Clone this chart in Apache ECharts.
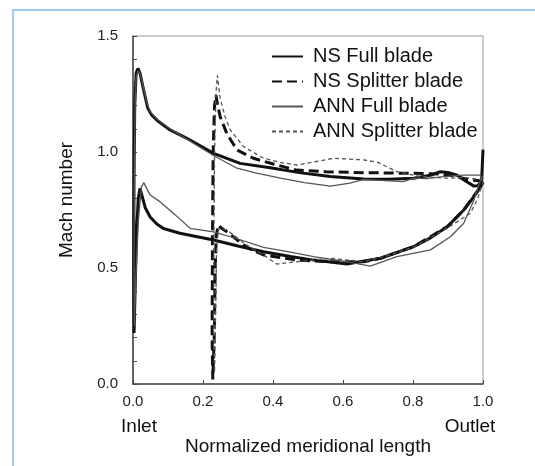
<!DOCTYPE html>
<html>
<head>
<meta charset="utf-8">
<script src="https://cdn.jsdelivr.net/npm/echarts@6/dist/echarts.min.js"></script>
<style>
  html, body { margin: 0; padding: 0; background: #fff; }
  #chart { width: 535px; height: 466px; }
</style>
</head>
<body>
<div id="chart"></div>
<script>
// blade surface curves, [x, Mach] ordered around the blade (upper side back to LE, then lower side to TE)
var nsFull = [
  [1.0, 1.01], [0.996, 0.875], [0.985, 0.855], [0.974, 0.853], [0.95, 0.875], [0.926, 0.90], [0.9, 0.912],
  [0.878, 0.915], [0.85, 0.9], [0.802, 0.887], [0.73, 0.883], [0.659, 0.884], [0.564, 0.894], [0.48, 0.91],
  [0.392, 0.932], [0.306, 0.951], [0.23, 0.994], [0.154, 1.059], [0.106, 1.095], [0.07, 1.135], [0.053, 1.16],
  [0.042, 1.19], [0.03, 1.27], [0.02, 1.34], [0.014, 1.36], [0.009, 1.34], [0.005, 1.2], [0.003, 0.9],
  [0.002, 0.5], [0.003, 0.22], [0.006, 0.4], [0.01, 0.65], [0.015, 0.8], [0.02, 0.843], [0.026, 0.81],
  [0.035, 0.76], [0.049, 0.72], [0.068, 0.69], [0.087, 0.67], [0.134, 0.65], [0.23, 0.621], [0.3, 0.595],
  [0.373, 0.57], [0.45, 0.55], [0.516, 0.534], [0.611, 0.517], [0.707, 0.542], [0.802, 0.592], [0.85, 0.63],
  [0.898, 0.678], [0.945, 0.75], [0.975, 0.81], [0.993, 0.85], [1.0, 0.87]
];
var nsSplit = [
  [1.0, 0.875], [0.964, 0.879], [0.92, 0.895], [0.88, 0.905], [0.802, 0.908], [0.659, 0.911], [0.55, 0.915],
  [0.468, 0.922], [0.401, 0.948], [0.344, 0.973], [0.297, 1.009], [0.268, 1.08], [0.249, 1.152], [0.241, 1.21],
  [0.237, 1.245], [0.233, 1.2], [0.229, 1.0], [0.227, 0.6], [0.226, 0.2], [0.228, 0.02], [0.232, 0.2],
  [0.235, 0.5], [0.238, 0.64], [0.244, 0.685], [0.252, 0.672], [0.268, 0.656], [0.325, 0.589], [0.373, 0.556],
  [0.468, 0.534], [0.564, 0.527], [0.659, 0.527], [0.707, 0.542], [0.802, 0.592], [0.898, 0.678],
  [0.945, 0.75], [0.993, 0.85], [1.0, 0.87]
];
var annFull = [
  [0.993, 0.90], [0.97, 0.90], [0.945, 0.90], [0.88, 0.893], [0.84, 0.885], [0.802, 0.887], [0.773, 0.872],
  [0.72, 0.877], [0.659, 0.882], [0.62, 0.866], [0.564, 0.853], [0.49, 0.868], [0.421, 0.887], [0.35, 0.91],
  [0.297, 0.93], [0.23, 0.985], [0.154, 1.055], [0.106, 1.10], [0.07, 1.14], [0.049, 1.174], [0.038, 1.22],
  [0.028, 1.29], [0.02, 1.34], [0.014, 1.35], [0.009, 1.32], [0.006, 1.2], [0.004, 0.9], [0.003, 0.5],
  [0.004, 0.25], [0.008, 0.45], [0.015, 0.7], [0.024, 0.85], [0.031, 0.868], [0.04, 0.84], [0.049, 0.815],
  [0.077, 0.786], [0.12, 0.73], [0.163, 0.671], [0.23, 0.656], [0.3, 0.625], [0.373, 0.589], [0.45, 0.568],
  [0.516, 0.549], [0.611, 0.527], [0.678, 0.508], [0.754, 0.549], [0.85, 0.578], [0.907, 0.635],
  [0.945, 0.693], [0.974, 0.793], [0.993, 0.88], [1.0, 0.9]
];
var annSplit = [
  [1.0, 0.88], [0.945, 0.89], [0.898, 0.887], [0.821, 0.894], [0.754, 0.915], [0.7, 0.955], [0.659, 0.966],
  [0.573, 0.973], [0.52, 0.958], [0.468, 0.944], [0.42, 0.955], [0.373, 0.973], [0.316, 1.023], [0.278, 1.095],
  [0.263, 1.152], [0.249, 1.231], [0.241, 1.33], [0.237, 1.25], [0.233, 1.0], [0.231, 0.6], [0.231, 0.2],
  [0.233, 0.05], [0.236, 0.3], [0.239, 0.6], [0.245, 0.67], [0.268, 0.664], [0.325, 0.599], [0.373, 0.556],
  [0.411, 0.517], [0.468, 0.527], [0.564, 0.542], [0.659, 0.527], [0.72, 0.55], [0.802, 0.59],
  [0.898, 0.672], [0.964, 0.736], [0.985, 0.8], [1.0, 0.87]
];
var seriesNames = ['NS Full blade', 'NS Splitter blade', 'ANN Full blade', 'ANN Splitter blade'];

var font = "'Liberation Sans', Arial, sans-serif";
var chart = echarts.init(document.getElementById('chart'));

function curve(name, data, color, width, dash) {
  return {
    name: name,
    type: 'line',
    data: data,
    symbol: 'none',
    smooth: false,
    lineStyle: { color: color, width: width, type: dash },
    itemStyle: { color: color }
  };
}

var option = {
  animation: false,
  backgroundColor: '#fff',
  grid: { left: 133, right: 52, top: 36, bottom: 82, show: true, borderColor: '#999', borderWidth: 1 },
  legend: {
    orient: 'vertical',
    left: 271,
    top: 46,
    padding: 0,
    itemWidth: 31,
    itemHeight: 14,
    itemGap: 4,
    data: seriesNames,
    // hide the marker dot, keep only the line sample
    itemStyle: { color: 'transparent', borderColor: 'transparent', borderWidth: 0, opacity: 0 },
    textStyle: { fontFamily: font, fontSize: 20, color: '#111', lineHeight: 21, padding: [0, 0, 0, 5] }
  },
  xAxis: {
    type: 'value',
    min: 0,
    max: 1,
    interval: 0.2,
    name: 'Normalized meridional length',
    nameLocation: 'middle',
    nameGap: 53,
    nameTextStyle: { fontFamily: font, fontSize: 19, color: '#111' },
    axisLine: { lineStyle: { color: '#444', width: 1.5 } },
    axisTick: { inside: true, length: 4, lineStyle: { color: '#444' } },
    axisLabel: { fontFamily: font, fontSize: 15, color: '#222', margin: 10,
      formatter: function (v) { return v.toFixed(1); } },
    splitLine: { show: false }
  },
  yAxis: {
    type: 'value',
    min: 0,
    max: 1.5,
    interval: 0.1,
    axisLine: { show: true, lineStyle: { color: '#444', width: 1.5 } },
    axisTick: { show: true, inside: true, length: 4, lineStyle: { color: '#444' } },
    axisLabel: { fontFamily: font, fontSize: 15, color: '#222', margin: 15,
      formatter: function (v) {
        return Math.abs(v * 2 - Math.round(v * 2)) < 1e-6 ? v.toFixed(1) : '';
      } },
    splitLine: { show: false }
  },
  graphic: [
    { type: 'line', shape: { x1: 13, y1: 10, x2: 13, y2: 466 }, style: { stroke: '#9dcbf4', lineWidth: 2 } },
    { type: 'line', shape: { x1: 12, y1: 10, x2: 535, y2: 10 }, style: { stroke: '#9dcbf4', lineWidth: 2 } },
    { type: 'text', x: 139, y: 427, style: { text: 'Inlet', font: '19px ' + font, fill: '#111',
      textAlign: 'center', textVerticalAlign: 'middle' } },
    { type: 'text', x: 470, y: 427, style: { text: 'Outlet', font: '19px ' + font, fill: '#111',
      textAlign: 'center', textVerticalAlign: 'middle' } },
    { type: 'text', x: 67, y: 200, rotation: Math.PI / 2, style: { text: 'Mach number', font: '19px ' + font,
      fill: '#111', textAlign: 'center', textVerticalAlign: 'middle' } }
  ],
  series: [
    curve(seriesNames[0], nsFull, '#111', 3, 'solid'),
    curve(seriesNames[1], nsSplit, '#111', 3, [10, 5]),
    curve(seriesNames[2], annFull, '#555', 1.3, 'solid'),
    curve(seriesNames[3], annSplit, '#555', 1.3, [4, 3])
  ]
};
chart.setOption(option);
</script>
</body>
</html>
